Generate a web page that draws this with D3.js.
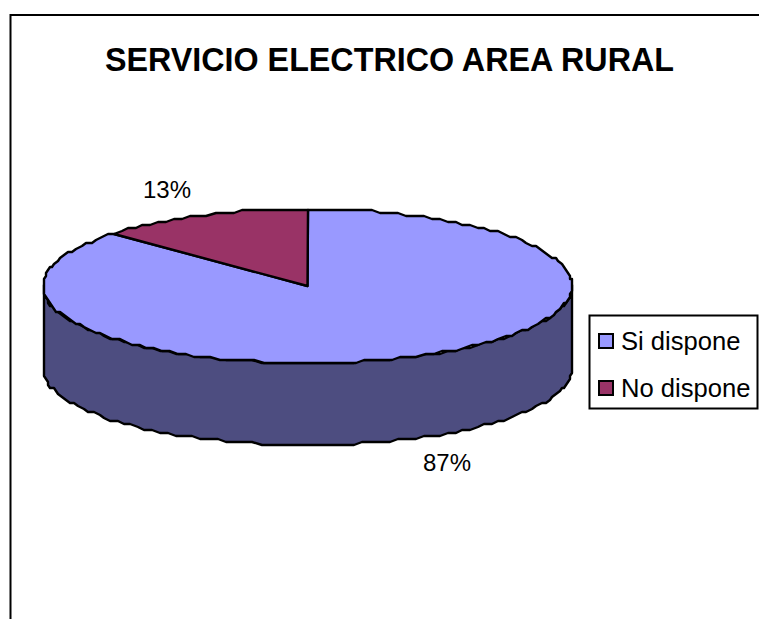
<!DOCTYPE html>
<html>
<head>
<meta charset="utf-8">
<script src="https://cdn.jsdelivr.net/npm/d3@7"></script>
<style>
  html, body { margin: 0; padding: 0; background: #fff; }
  svg { display: block; }
  text { font-family: "Liberation Sans", Arial, sans-serif; fill: #000; }
</style>
</head>
<body>
<div id="chart"></div>
<script>
var categories = ["Si dispone", "No dispone"];
var values = [87, 13];
var labels = ["87%", "13%"];
var title = "SERVICIO ELECTRICO AREA RURAL";

var width = 759, height = 619;

var topColors = d3.scaleOrdinal().domain(categories).range(["#9999ff", "#993366"]);
var sideColor = "#4d4d80";

var cx = 307.5, cy = 286, rx = 264.5, ry = 77, depth = 82;

var svg = d3.select("#chart").append("svg")
  .attr("width", width)
  .attr("height", height);

// chart area border, cut off by the picture on the right and bottom
svg.append("path")
  .attr("d", "M10.5," + height + "V15H" + width)
  .attr("fill", "none")
  .attr("stroke", "#000")
  .attr("stroke-width", 2);

svg.append("text")
  .attr("x", 389.5)
  .attr("y", 71)
  .attr("text-anchor", "middle")
  .attr("font-size", 33)
  .attr("font-weight", "bold")
  .attr("textLength", 569)
  .attr("lengthAdjust", "spacingAndGlyphs")
  .text(title);

// the pie runs clockwise from 12 o'clock, squashed to an ellipse
var pie = d3.pie().sort(null)(values);

// rounded points, the outline in the picture is jagged
function rim(angle, dy) {
  var x = cx + rx * Math.sin(angle);
  var y = cy - ry * Math.cos(angle);
  return [Math.round(x / 2) * 2, Math.round(y / 3) * 3 + (dy || 0)];
}

function arcPoints(a0, a1, dy) {
  var n = Math.max(2, Math.round(Math.abs(a1 - a0) / (Math.PI / 90)));
  return d3.range(n + 1).map(function(i) {
    return rim(a0 + (a1 - a0) * i / n, dy);
  });
}

var line = d3.line();
var chart = svg.append("g");

// side wall, only the front half of the rim shows
var front = arcPoints(Math.PI / 2, Math.PI * 1.5, 0);
var frontLow = arcPoints(Math.PI * 1.5, Math.PI / 2, depth);
chart.append("path")
  .attr("d", line(front.concat(frontLow)) + "Z")
  .attr("fill", sideColor)
  .attr("stroke", "#000")
  .attr("stroke-width", 2.4)
  .attr("stroke-linejoin", "round");

chart.selectAll(".slice")
  .data(pie)
  .enter().append("path")
  .attr("class", "slice")
  .attr("d", function(d) {
    return line([[cx, cy]].concat(arcPoints(d.startAngle, d.endAngle, 0))) + "Z";
  })
  .attr("fill", function(d, i) { return topColors(categories[i]); })
  .attr("stroke", "#000")
  .attr("stroke-width", 2.4)
  .attr("stroke-linejoin", "round");

// percentage labels sit outside the pie
var labelPos = d3.scalePoint().domain(labels).range([447, 167]);
var labelY = d3.scalePoint().domain(labels).range([471, 198]);
svg.selectAll(".pct")
  .data(labels)
  .enter().append("text")
  .attr("class", "pct")
  .attr("x", function(d) { return labelPos(d); })
  .attr("y", function(d) { return labelY(d); })
  .attr("text-anchor", "middle")
  .attr("font-size", 24)
  .text(function(d) { return d; });

// legend
var legend = svg.append("g");
legend.append("rect")
  .attr("x", 589.5)
  .attr("y", 315.5)
  .attr("width", 168)
  .attr("height", 93)
  .attr("fill", "#fff")
  .attr("stroke", "#000")
  .attr("stroke-width", 2);

var legendY = d3.scalePoint().domain(categories).range([341, 388]);

legend.selectAll(".swatch")
  .data(categories)
  .enter().append("rect")
  .attr("class", "swatch")
  .attr("x", 599)
  .attr("y", function(d) { return legendY(d) - 7; })
  .attr("width", 14)
  .attr("height", 14)
  .attr("fill", function(d) { return topColors(d); })
  .attr("stroke", "#000")
  .attr("stroke-width", 2);

legend.selectAll(".entry")
  .data(categories)
  .enter().append("text")
  .attr("class", "entry")
  .attr("x", 621)
  .attr("y", function(d) { return legendY(d) + 9; })
  .attr("font-size", 25.6)
  .text(function(d) { return d; });
</script>
</body>
</html>
